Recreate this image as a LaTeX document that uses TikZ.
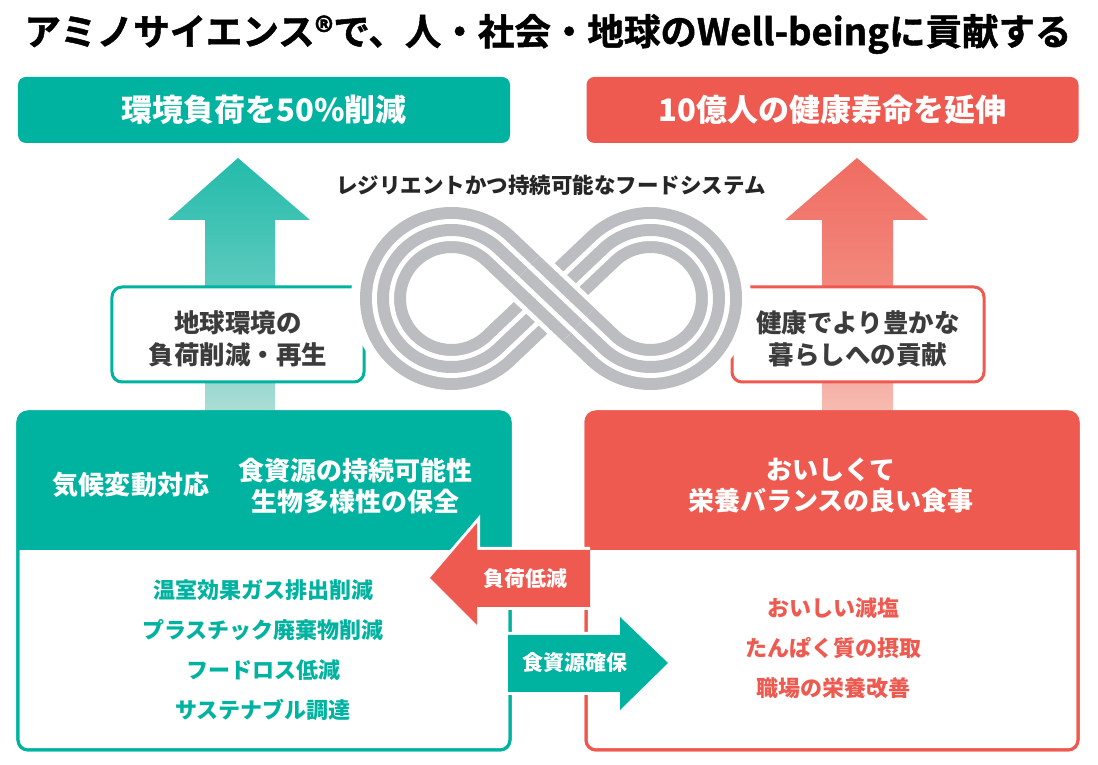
\documentclass[tikz,border=0pt]{standalone}
\usepackage{fontspec}
\setmainfont{Noto Sans CJK JP}
\newfontfamily\titlefont{Noto Sans CJK JP}[UprightFont=* Bold, FakeBold=1.3]
\usetikzlibrary{calc}
\definecolor{teal1}{RGB}{0,178,160}
\definecolor{coral1}{RGB}{239,90,80}
\definecolor{ink}{RGB}{38,38,38}
\definecolor{ink2}{RGB}{60,60,60}
\definecolor{infgray}{RGB}{188,189,192}
\definecolor{tealtop}{RGB}{35,187,170}
\definecolor{tealmid}{RGB}{92,202,189}
\definecolor{tealbot}{RGB}{172,221,213}
\definecolor{coraltop}{RGB}{240,108,98}
\definecolor{coralmid}{RGB}{242,136,124}
\definecolor{coralbot}{RGB}{247,188,178}
\tikzset{
  fs/.style={font=\fontsize{#1bp}{#1bp}\selectfont\bfseries},
  topbox/.style={rounded corners=8bp, minimum width=492bp, minimum height=66bp, inner sep=0pt, outer sep=0pt, text=white, fs=31},
  midbox/.style={draw, line width=3bp, fill=white, rounded corners=10bp, minimum width=252bp, minimum height=95bp, inner sep=0pt, outer sep=0pt},
  midtext/.style={text=ink2, fs=25.5, align=center, inner sep=0pt},
  bigbox/.style={draw, line width=3bp, fill=white, rounded corners=10bp, minimum width=492bp, minimum height=338bp, inner sep=0pt, outer sep=0pt},
  hdtext/.style={text=white, fs=26, inner sep=0pt},
  listtext/.style={fs=22, inner sep=0pt},
  arrlabel/.style={text=white, fs=21, inner sep=0pt},
  arrowout/.style={draw=white, line width=6bp, line join=miter},
}
\begin{document}
\begin{tikzpicture}[x=1bp,y=1bp]
\useasboundingbox (0,0) rectangle (1098,765);
\fill[white] (0,0) rectangle (1098,765);

% title
\node[font=\titlefont\fontsize{36.5bp}{40bp}\selectfont, text=black, inner sep=0pt] (title) at (548,731) {アミノサイエンス®で、人・社会・地球のWell-beingに貢献する};

% big upward arrows
\shade[top color=tealtop, bottom color=tealbot, middle color=tealmid] (205,353) -- (205,545) -- (168,545) -- (238,607) -- (310,545) -- (275,545) -- (275,353) -- cycle;
\shade[top color=coraltop, bottom color=coralbot, middle color=coralmid] (822,353) -- (822,545) -- (785,545) -- (857,607) -- (928,545) -- (893,545) -- (893,353) -- cycle;

% top goal boxes
\node[topbox, fill=teal1] (goalL) at (264,655) {環境負荷を50\%削減};
\node[topbox, fill=coral1] (goalR) at (832.5,655) {10億人の健康寿命を延伸};

% subtitle
\node[fs=21.5, text=ink, inner sep=0pt] (sub) at (551,580) {レジリエントかつ持続可能なフードシステム};

% middle boxes
\node[midbox, draw=teal1] (midL) at (238,430.5) {};
\node[midbox, draw=coral1] (midR) at (858,430.5) {};

% infinity
\begin{scope}[shift={(551,466.5)}]
\foreach \w/\c in {64/white,46/infgray,22/white,12/infgray}
  \draw[line width=\w bp, \c] (0,0) -- ($(99.5,0)+(133.5:68.5)$) arc[start angle=133.5, end angle=-133.5, radius=68.5] -- (0,0) -- ($(-99.5,0)+(46.5:68.5)$) arc[start angle=46.5, end angle=313.5, radius=68.5] -- cycle;
\foreach \w/\c in {56/white,46/infgray,22/white,12/infgray}
  \draw[line width=\w bp, \c] (136.5:38) -- (-43.5:38);
\end{scope}

\node[midtext] (midLt) at (238,426) {地球環境の\\[7bp]負荷削減・再生};
\node[midtext] (midRt) at (858,426) {健康でより豊かな\\[7bp]暮らしへの貢献};

% bottom boxes
\node[bigbox, draw=teal1] (botL) at (264,184) {};
\begin{scope}
  \clip[rounded corners=10bp] (botL.south west) rectangle (botL.north east);
  \fill[teal1] (18,215) rectangle (510,353);
\end{scope}
\node[bigbox, draw=coral1] (botR) at (832,184) {};
\begin{scope}
  \clip[rounded corners=10bp] (botR.south west) rectangle (botR.north east);
  \fill[coral1] (586,215) rectangle (1078,353);
\end{scope}
\draw[teal1, line width=3bp, rounded corners=10bp] (botL.south west) rectangle (botL.north east);
\draw[coral1, line width=3bp, rounded corners=10bp] (botR.south west) rectangle (botR.north east);

\node[hdtext] (hL1) at (131,280) {気候変動対応};
\node[hdtext, align=center] (hL2) at (355,279) {食資源の持続可能性\\[5bp]生物多様性の保全};
\node[hdtext, align=center] (hR) at (831,280) {おいしくて\\[5bp]栄養バランスの良い食事};

\node[listtext, text=teal1] (l1) at (263,175) {温室効果ガス排出削減};
\node[listtext, text=teal1] (l2) at (263,135) {プラスチック廃棄物削減};
\node[listtext, text=teal1] (l3) at (263,95) {フードロス低減};
\node[listtext, text=teal1] (l4) at (263,55) {サステナブル調達};

\node[listtext, text=coral1] (r1) at (833,157) {おいしい減塩};
\node[listtext, text=coral1] (r2) at (833,117) {たんぱく質の摂取};
\node[listtext, text=coral1] (r3) at (833,77) {職場の栄養改善};

% exchange arrows
\draw[arrowout] (590,158) -- (477,158) -- (477,140) -- (430,187) -- (477,242) -- (477,215) -- (590,215);
\fill[coral1] (590,158) -- (477,158) -- (477,140) -- (430,187) -- (477,242) -- (477,215) -- (590,215) -- cycle;
\node[arrlabel] (aL) at (525,186) {負荷低減};

\draw[arrowout] (508,130) -- (620,130) -- (620,148) -- (668,102) -- (620,55) -- (620,73) -- (508,73);
\fill[teal1] (508,130) -- (620,130) -- (620,148) -- (668,102) -- (620,55) -- (620,73) -- (508,73) -- cycle;
\node[arrlabel] (aR) at (575,102) {食資源確保};
\end{tikzpicture}
\end{document}
